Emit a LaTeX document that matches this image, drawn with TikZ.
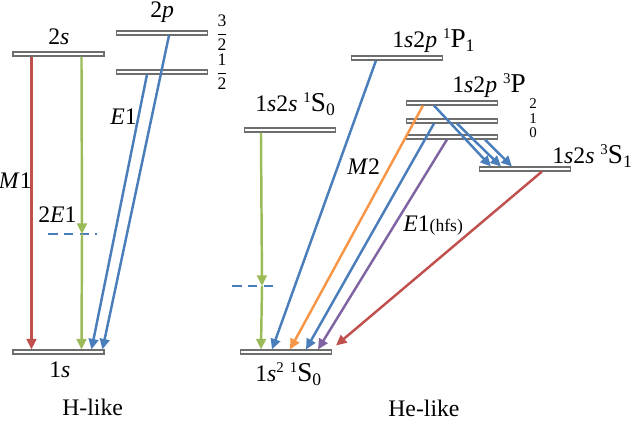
\documentclass[tikz,border=0pt]{standalone}
\usepackage{amsmath}
\usepackage{fontspec}
\setmainfont{Liberation Serif}
\usetikzlibrary{arrows.meta, positioning, calc}
\definecolor{lvlgray}{RGB}{110, 110, 110}
\definecolor{tred}{RGB}{192, 80, 77}
\definecolor{tgreen}{RGB}{155, 187, 89}
\definecolor{tblue}{RGB}{74, 126, 187}
\definecolor{torange}{RGB}{247, 150, 70}
\definecolor{tpurple}{RGB}{128, 100, 162}
\newcommand{\trm}[3]{\raisebox{5.5pt}{\fontsize{8.5}{9}\selectfont #1}{\fontsize{15.5}{17}\selectfont #2}\raisebox{-2pt}{\fontsize{10}{10}\selectfont #3}}
\newcommand{\upsup}[1]{\raisebox{5.5pt}{\fontsize{8.5}{9}\selectfont #1}}

\begin{document}
\begin{tikzpicture}[x=0.02cm, y=-0.02cm,
    level/.style={draw=lvlgray, fill=white, line width=0.6pt, minimum width=1.82cm, minimum height=0.08cm, inner sep=0pt},
    trans/.style={line width=1.4pt, -{Triangle[length=6pt, width=5.5pt]}},
    virtual/.style={tblue, line width=1.5pt, dash pattern=on 5.5pt off 3.5pt},
    lbl/.style={font=\fontsize{13.5}{15}\selectfont, inner sep=0pt},
    tiny/.style={font=\fontsize{8.5}{9}\selectfont, inner sep=0pt}
]
    \useasboundingbox (0,0) rectangle (633,442);

    % H-like levels
    \node[level] (s2) at (58.5,54) {};
    \node[level] (p32) at (162,33) {};
    \node[level] (p12) at (162,72) {};
    \node[level] (g1) at (58.5,352) {};

    \coordinate (vH) at (82,234);
    \draw[virtual] ($(vH)+(-34,0)$) -- ($(vH)+(15,0)$);
    \draw[trans, tred] ($(s2.south west)+(19,0)$) -- ($(g1.north west)+(19,0)$);
    \draw[trans, tgreen] ($(s2.south west)+(69,0)$) -- (vH);
    \draw[trans, tgreen] (vH) -- ($(g1.north west)+(69,0)$);
    \draw[trans, tblue] ($(p12.south west)+(31,0)$) -- ($(g1.north west)+(79,0)$);
    \draw[trans, tblue] ($(p32.south west)+(53,0)$) -- ($(g1.north west)+(90,0)$);

    \node[lbl, anchor=base west] (l2s) at (48,45) {2\textit{s}};
    \node[lbl, anchor=base west] (l2p) at (150,18) {2\textit{p}};
    \node[font=\fontsize{10}{10}\selectfont, inner sep=0pt] (j32) at (222,33) {$\dfrac{\mbox{3}}{\mbox{2}}$};
    \node[font=\fontsize{10}{10}\selectfont, inner sep=0pt] (j12) at (222,72) {$\dfrac{\mbox{1}}{\mbox{2}}$};
    \node[lbl, anchor=base east] (lm1) at (32,189) {\textit{M}1};
    \node[lbl, anchor=base west] (l2e1) at (38,223) {2\textit{E}1};
    \node[lbl, anchor=base west] (le1) at (110,125) {\textit{E}1};
    \node[lbl, anchor=base west] (l1s) at (49,378) {1\textit{s}};
    \node[lbl, anchor=base west] (hlike) at (62,416) {H-like};

    % He-like levels
    \node[level] (s0s) at (290,130) {};
    \node[level] (p1s) at (397,58) {};
    \node[level] (p2t) at (452,103) {};
    \node[level] (p1t) at (452,121) {};
    \node[level] (p0t) at (452,137) {};
    \node[level] (s1t) at (525,169) {};
    \node[level] (gnd) at (286,352) {};

    \coordinate (vHe) at (262,286);
    \draw[virtual] ($(vHe)+(-30,0)$) -- ($(vHe)+(16,0)$);
    \draw[trans, tgreen] ($(s0s.south west)+(17,0)$) -- (vHe);
    \draw[trans, tgreen] (vHe) -- ($(gnd.north west)+(21,0)$);
    \draw[trans, tblue] ($(p1s.south west)+(25,0)$) -- ($(gnd.north west)+(32,0)$);
    \draw[trans, torange] ($(p2t.south west)+(17,0)$) -- ($(gnd.north west)+(50,0)$);
    \draw[trans, tblue] ($(p1t.south west)+(28,0)$) -- ($(gnd.north west)+(66,0)$);
    \draw[trans, tpurple] ($(p0t.south west)+(41,0)$) -- ($(gnd.north west)+(78,0)$);
    \draw[trans, tred] ($(s1t.south west)+(63,0)$) -- ($(gnd.north east)+(4,-4)$);
    \draw[trans, tblue] ($(p2t.south west)+(28,0)$) -- ($(s1t.north west)+(12,0)$);
    \draw[trans, tblue] ($(p1t.south west)+(51,0)$) -- ($(s1t.north west)+(22,0)$);
    \draw[trans, tblue] ($(p0t.south west)+(79,0)$) -- ($(s1t.north west)+(33,0)$);

    \node[lbl, anchor=base west] (ls0s) at (255,112) {1\textit{s}2\textit{s} \trm{1}{S}{0}};
    \node[lbl, anchor=base west] (lp1s) at (392,48) {1\textit{s}2\textit{p} \trm{1}{P}{1}};
    \node[lbl, anchor=base west] (lp3) at (452,93) {1\textit{s}2\textit{p} \trm{3}{P}{}};
    \node[tiny] (j2) at (533,104) {2};
    \node[tiny] (j1) at (533,119) {1};
    \node[tiny] (j0) at (533,133) {0};
    \node[lbl, anchor=base west] (ls1t) at (552,164) {1\textit{s}2\textit{s} \trm{3}{S}{1}};
    \node[lbl, anchor=base west] (lm2) at (347,175) {\textit{M}2};
    \node[lbl, anchor=base west] (le1h) at (403,232) {\textit{E}1{\fontsize{10}{10}\selectfont(hfs)}};
    \node[lbl, anchor=base west] (lgnd) at (255,382) {1\textit{s}\upsup{2} \trm{1}{S}{0}};
    \node[lbl, anchor=base west] (helike) at (388,417) {He-like};
\end{tikzpicture}
\end{document}
